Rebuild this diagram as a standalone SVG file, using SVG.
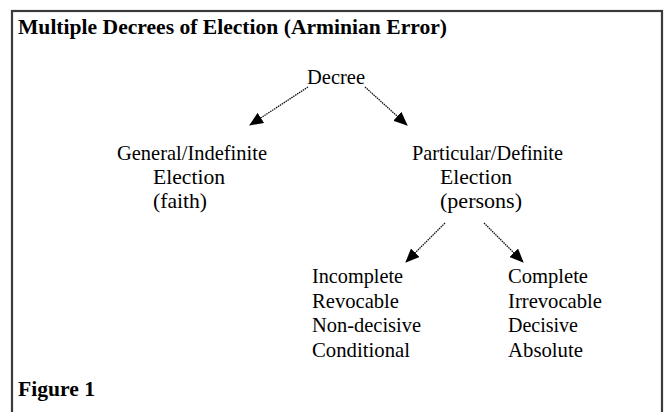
<svg xmlns="http://www.w3.org/2000/svg" width="667" height="412" viewBox="0 0 667 412">
  <style>
    .t { font-family: "Liberation Serif", "Times New Roman", serif; font-size: 22px; fill: #000; }
    .b { font-family: "Liberation Serif", "Times New Roman", serif; font-size: 21px; font-weight: bold; fill: #000; }
    .arrow { stroke: #111; stroke-width: 1.3; fill: none; stroke-dasharray: 1.5 0.8; marker-end: url(#head); }
  </style>
  <defs>
    <marker id="head" viewBox="0 0 14 12" refX="13" refY="6" markerWidth="14" markerHeight="12" markerUnits="userSpaceOnUse" orient="auto">
      <path d="M0,0 L14,6 L0,12 Z" fill="#000"/>
    </marker>
  </defs>

  <rect width="667" height="412" fill="#fff"/>
  <!-- frame: open at the bottom edge -->
  <rect x="12" y="11" width="650" height="420" fill="none" stroke="#3a3a3a" stroke-width="2.2"/>

  <text class="b" x="18" y="34" textLength="429" lengthAdjust="spacingAndGlyphs">Multiple Decrees of Election (Arminian Error)</text>

  <g id="decree">
    <text class="t" x="307" y="84" textLength="58" lengthAdjust="spacingAndGlyphs">Decree</text>
  </g>

  <g id="general">
    <text class="t" x="117" y="160" textLength="150" lengthAdjust="spacingAndGlyphs">General/Indefinite</text>
    <text class="t" x="153" y="184" textLength="72" lengthAdjust="spacingAndGlyphs">Election</text>
    <text class="t" x="153" y="208" textLength="54" lengthAdjust="spacingAndGlyphs">(faith)</text>
  </g>

  <g id="particular">
    <text class="t" x="412" y="160" textLength="151" lengthAdjust="spacingAndGlyphs">Particular/Definite</text>
    <text class="t" x="440" y="184" textLength="72" lengthAdjust="spacingAndGlyphs">Election</text>
    <text class="t" x="440" y="208" textLength="82" lengthAdjust="spacingAndGlyphs">(persons)</text>
  </g>

  <g id="conditional">
    <text class="t" x="312" y="283" textLength="91" lengthAdjust="spacingAndGlyphs">Incomplete</text>
    <text class="t" x="312" y="307.5" textLength="87" lengthAdjust="spacingAndGlyphs">Revocable</text>
    <text class="t" x="312" y="332" textLength="109" lengthAdjust="spacingAndGlyphs">Non-decisive</text>
    <text class="t" x="312" y="356.5" textLength="98" lengthAdjust="spacingAndGlyphs">Conditional</text>
  </g>

  <g id="absolute">
    <text class="t" x="508" y="283" textLength="80" lengthAdjust="spacingAndGlyphs">Complete</text>
    <text class="t" x="508" y="307.5" textLength="94" lengthAdjust="spacingAndGlyphs">Irrevocable</text>
    <text class="t" x="508" y="332" textLength="70" lengthAdjust="spacingAndGlyphs">Decisive</text>
    <text class="t" x="508" y="356.5" textLength="75" lengthAdjust="spacingAndGlyphs">Absolute</text>
  </g>

  <g id="connectors">
    <line class="arrow" x1="308" y1="87" x2="250" y2="125"/>
    <line class="arrow" x1="365" y1="87" x2="407" y2="125"/>
    <line class="arrow" x1="445" y1="223" x2="406" y2="262"/>
    <line class="arrow" x1="484" y1="223" x2="523" y2="262"/>
  </g>

  <text class="b" x="18" y="396" textLength="77" lengthAdjust="spacingAndGlyphs">Figure 1</text>
</svg>
